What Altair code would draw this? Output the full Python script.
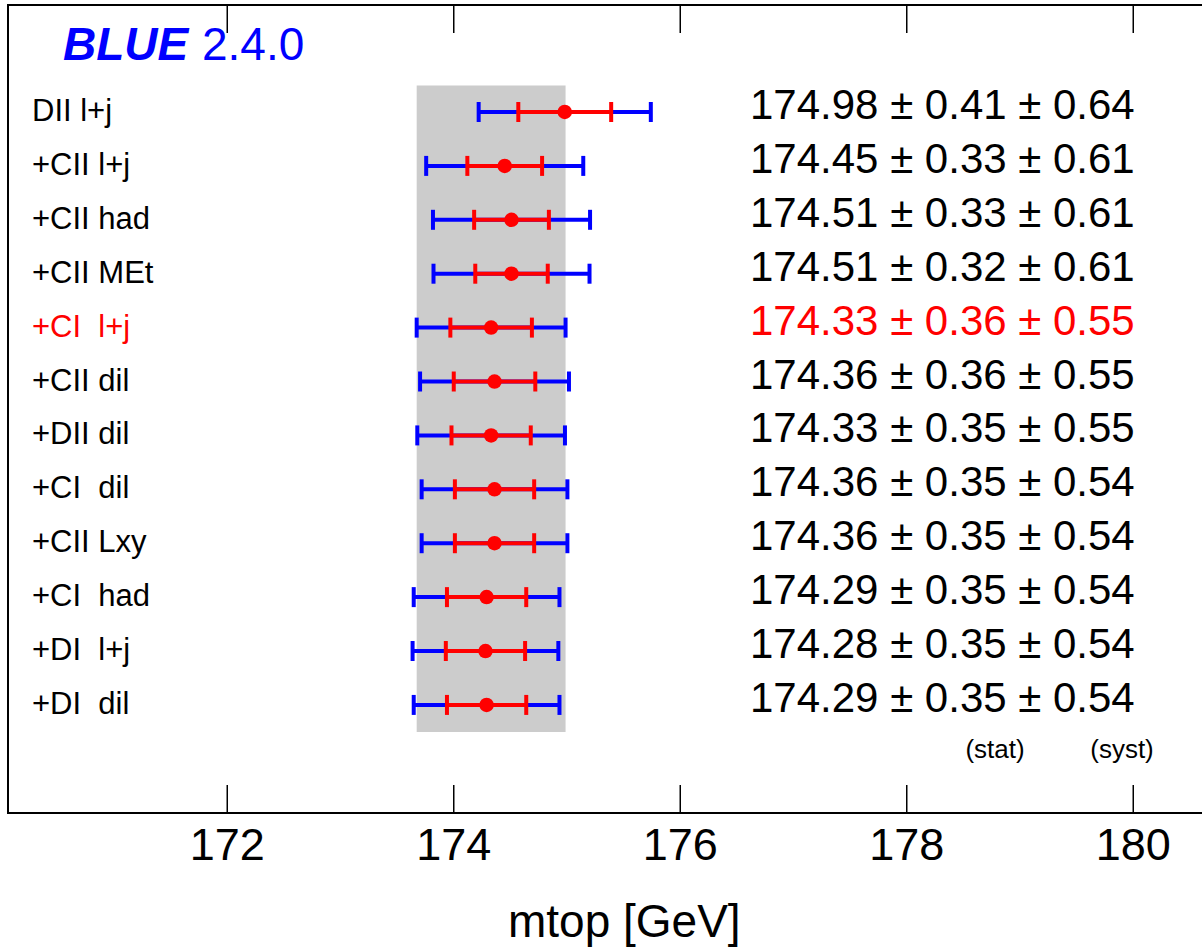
import altair as alt
import pandas as pd

# ---- data ----
labels = ["DII l+j", "+CII l+j", "+CII had", "+CII MEt", "+CI  l+j", "+CII dil",
          "+DII dil", "+CI  dil", "+CII Lxy", "+CI  had", "+DI  l+j", "+DI  dil"]
values = [174.98, 174.45, 174.51, 174.51, 174.33, 174.36, 174.33, 174.36, 174.36, 174.29, 174.28, 174.29]
stat = [0.41, 0.33, 0.33, 0.32, 0.36, 0.36, 0.35, 0.35, 0.35, 0.35, 0.35, 0.35]
syst = [0.64, 0.61, 0.61, 0.61, 0.55, 0.55, 0.55, 0.54, 0.54, 0.54, 0.54, 0.54]
highlight = 4
tick_values = [172, 174, 176, 178, 180]
x_domain = [170.064, 180.607]
y_domain = [-1.985, 13.005]

FONT = "Liberation Sans"
W, H = 1194, 808

rows = pd.DataFrame({
    "row": list(range(len(labels))),
    "label": [s.replace(" ", "\u00a0") for s in labels],
    "value": values,
    "stat": stat,
    "syst": syst,
})
rows["total"] = (rows["stat"] ** 2 + rows["syst"] ** 2) ** 0.5
rows["lo_tot"] = rows["value"] - rows["total"]
rows["hi_tot"] = rows["value"] + rows["total"]
rows["lo_stat"] = rows["value"] - rows["stat"]
rows["hi_stat"] = rows["value"] + rows["stat"]
rows["text"] = [f"{v:.2f} \u00b1 {s:.2f} \u00b1 {y:.2f}" for v, s, y in zip(values, stat, syst)]
rows["color"] = ["#ff0000" if i == highlight else "#000000" for i in range(len(labels))]

hl = rows.iloc[highlight]
band = pd.DataFrame({"x": [hl["lo_tot"]], "x2": [hl["hi_tot"]], "y": [-0.49], "y2": [len(labels) - 0.5]})
ticks = pd.DataFrame({"t": tick_values, "lab": [str(t) for t in tick_values]})

xs = alt.Scale(domain=x_domain, nice=False, zero=False)
ys = alt.Scale(domain=y_domain, nice=False, zero=False, reverse=True)


def X(f):
    return alt.X(f, type="quantitative", scale=xs, axis=None)


def Y(f):
    return alt.Y(f, type="quantitative", scale=ys, axis=None)


one = pd.DataFrame({"k": [0]})


def cap(field, color):
    return alt.Chart(rows).mark_tick(color=color, orient="vertical", thickness=4, size=20, opacity=1).encode(
        x=X(field), y=Y("row"))


band_l = alt.Chart(band).mark_rect(color="#cccccc").encode(
    x=X("x"), x2="x2", y=Y("y"), y2="y2")

blue_line = alt.Chart(rows).mark_rule(color="#0000ff", strokeWidth=4).encode(
    x=X("lo_tot"), x2="hi_tot", y=Y("row"))
red_line = alt.Chart(rows).mark_rule(color="#ff0000", strokeWidth=4).encode(
    x=X("lo_stat"), x2="hi_stat", y=Y("row"))
dots = alt.Chart(rows).mark_circle(color="#ff0000", size=210, opacity=1).encode(
    x=X("value"), y=Y("row"))

label_l = alt.Chart(rows).mark_text(font=FONT, fontSize=31, align="left", baseline="alphabetic", dy=9).encode(
    x=alt.value(24), y=Y("row"), text="label:N", color=alt.Color("color:N", scale=None))
value_l = alt.Chart(rows).mark_text(font=FONT, fontSize=42, align="left", baseline="alphabetic", dy=7).encode(
    x=alt.value(742), y=Y("row"), text="text:N", color=alt.Color("color:N", scale=None))

stat_l = alt.Chart(one).mark_text(font=FONT, fontSize=26, align="center", baseline="alphabetic", text="(stat)").encode(
    x=alt.value(987), y=alt.value(753))
syst_l = alt.Chart(one).mark_text(font=FONT, fontSize=26, align="center", baseline="alphabetic", text="(syst)").encode(
    x=alt.value(1114), y=alt.value(753))

blue_t = alt.Chart(one).mark_text(font=FONT, fontSize=46, fontWeight="bold", fontStyle="italic", color="#0000ff",
                                  align="left", baseline="alphabetic", text="BLUE").encode(
    x=alt.value(55), y=alt.value(55))
ver_t = alt.Chart(one).mark_text(font=FONT, fontSize=46, color="#0000ff",
                                 align="left", baseline="alphabetic", text="2.4.0").encode(
    x=alt.value(194), y=alt.value(55))

xtitle = alt.Chart(one).mark_text(font=FONT, fontSize=46, align="left", baseline="alphabetic", text="mtop [GeV]").encode(
    x=alt.value(500), y=alt.value(932))

# frame lines
frame_top = alt.Chart(one).mark_rule(color="black", strokeWidth=2).encode(
    x=alt.value(-1), x2=alt.value(W), y=alt.value(0))
frame_bot = alt.Chart(one).mark_rule(color="black", strokeWidth=2).encode(
    x=alt.value(-1), x2=alt.value(W), y=alt.value(H))
frame_left = alt.Chart(one).mark_rule(color="black", strokeWidth=2).encode(
    x=alt.value(0), y=alt.value(0), y2=alt.value(H))

tick_top = alt.Chart(ticks).mark_rule(color="black", strokeWidth=1.5).encode(
    x=X("t"), y=alt.value(0), y2=alt.value(28))
tick_bot = alt.Chart(ticks).mark_rule(color="black", strokeWidth=1.5).encode(
    x=X("t"), y=alt.value(H - 28), y2=alt.value(H))
tick_lab = alt.Chart(ticks).mark_text(font=FONT, fontSize=45, align="center", baseline="alphabetic").encode(
    x=X("t"), y=alt.value(855), text="lab:N")

chart = alt.layer(
    band_l, blue_line, cap("lo_tot", "#0000ff"), cap("hi_tot", "#0000ff"),
    red_line, cap("lo_stat", "#ff0000"), cap("hi_stat", "#ff0000"), dots,
    label_l, value_l, stat_l, syst_l, blue_t, ver_t, xtitle,
    frame_top, frame_bot, frame_left, tick_top, tick_bot, tick_lab,
).properties(
    width=W, height=H,
    autosize=alt.AutoSizeParams(type="none"),
    padding={"left": 8, "top": 5, "right": 0, "bottom": 136},
    background="white",
).configure_view(stroke=None)

chart.save("out.html", embed_options={"renderer": "svg", "actions": False})
